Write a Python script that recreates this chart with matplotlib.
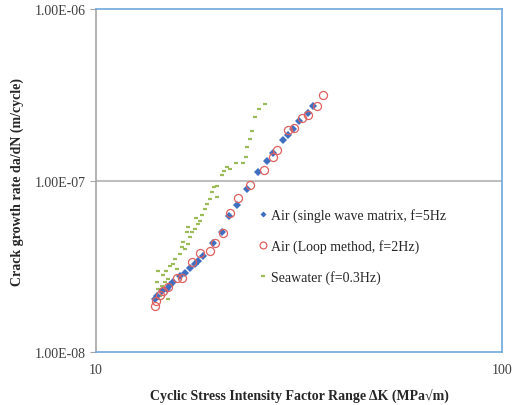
import matplotlib
matplotlib.use("Agg")
from matplotlib import pyplot as plt
from matplotlib.ticker import FixedLocator, FixedFormatter, NullLocator

# Air (single wave matrix, f=5Hz)
air_single_dk = [13.97, 14.13, 14.54, 14.96, 15.22, 15.48, 16.10, 16.57, 17.04,
                 17.53, 17.83, 18.35, 19.42, 20.43, 21.26, 22.25, 23.55, 25.06,
                 26.38, 27.29, 28.88, 29.71, 30.56, 31.62, 33.28, 34.24]
air_single_rate = [2.04, 2.12, 2.27, 2.33, 2.46, 2.56, 2.77, 2.89, 3.09,
                   3.26, 3.39, 3.63, 4.32, 5.01, 6.21, 7.20, 8.92, 11.21,
                   12.99, 14.47, 17.23, 18.42, 19.97, 22.23, 24.75, 27.19]

# Air (Loop method, f=2Hz)
air_loop_dk = [13.97, 14.05, 14.38, 14.62, 15.04, 15.83, 16.28, 17.24, 18.04,
               19.09, 19.64, 20.55, 21.38, 22.38, 23.95, 25.93, 27.29, 27.91,
               29.71, 30.74, 32.17, 33.28, 35.02, 36.23]
air_loop_rate = [1.85, 1.98, 2.15, 2.27, 2.39, 2.70, 2.70, 3.35, 3.78,
                 3.88, 4.32, 4.94, 6.46, 7.91, 9.41, 11.51, 13.71, 15.06,
                 19.70, 20.24, 23.14, 24.09, 27.19, 31.51]

# Seawater (f=0.3Hz)
sea_dk = [14.13, 14.38, 14.21, 14.54, 14.13, 14.79, 14.62, 15.04, 14.21, 14.87,
          15.04, 15.22, 15.48, 15.83, 15.65, 16.10, 16.28, 16.57, 16.38, 16.85,
          17.04, 16.75, 17.24, 16.85, 17.53, 17.83, 18.04, 17.63, 18.25, 18.56,
          18.77, 19.09, 19.31, 19.53, 19.86, 19.86, 20.43, 20.67, 21.02, 21.38,
          22.12, 23.02, 23.42, 23.55, 23.95, 24.22, 24.64, 25.21, 26.08]
sea_rate = [2.04, 2.12, 2.33, 2.43, 2.56, 2.56, 2.81, 2.67, 2.97, 2.97,
            2.04, 3.17, 3.26, 3.05, 3.49, 3.73, 4.10, 3.99, 4.38, 4.26,
            4.68, 5.01, 5.01, 5.36, 5.21, 5.58, 5.81, 6.05, 6.29, 6.82,
            7.30, 7.80, 8.57, 9.17, 9.29, 8.01, 10.77, 11.36, 11.99, 11.67,
            12.65, 12.65, 13.71, 15.68, 17.46, 19.44, 23.46, 26.12, 27.93]

scale = 1e-8
y_ticks = [1e-8, 1e-7, 1e-6]
y_tick_labels = ["1.00E-08", "1.00E-07", "1.00E-06"]
x_ticks = [10, 100]
x_tick_labels = ["10", "100"]

plt.rcParams['font.family'] = ['Liberation Serif', 'DejaVu Serif']

fig = plt.figure(figsize=(5.13, 4.06), dpi=100)
ax = fig.add_axes([0.187, 0.1305, 0.7916, 0.8449])

ax.set_xscale('log')
ax.set_yscale('log')
ax.set_xlim(10, 100)
ax.set_ylim(1e-8, 1e-6)

# gridline at 1e-7 only
ax.axhline(1e-7, color='#BFBFBF', linewidth=1.5, zorder=1)

ax.plot(air_single_dk, [v * scale for v in air_single_rate], linestyle='none',
        marker='D', markersize=3.6, color='#3F6FC0', markeredgewidth=0,
        label='Air (single wave matrix, f=5Hz', zorder=3)
ax.plot(air_loop_dk, [v * scale for v in air_loop_rate], linestyle='none',
        marker='o', markersize=5.8, markerfacecolor='none',
        markeredgecolor='#E06060', markeredgewidth=0.9,
        label='Air (Loop method, f=2Hz)', zorder=3)
ax.plot(sea_dk, [v * scale for v in sea_rate], linestyle='none',
        marker='_', markersize=3.2, color='#9BBB59', markeredgewidth=1.6,
        label='Seawater (f=0.3Hz)', zorder=2)

ax.xaxis.set_major_locator(FixedLocator(x_ticks))
ax.xaxis.set_major_formatter(FixedFormatter(x_tick_labels))
ax.xaxis.set_minor_locator(NullLocator())
ax.yaxis.set_major_locator(FixedLocator(y_ticks))
ax.yaxis.set_major_formatter(FixedFormatter(y_tick_labels))
ax.yaxis.set_minor_locator(NullLocator())

ax.tick_params(axis='y', length=4, color='#A6A6A6', labelsize=10,
               labelcolor='#404040', pad=3)
ax.tick_params(axis='x', length=0, labelsize=10, labelcolor='#404040', pad=8)

ax.spines['left'].set_color('#A6A6A6')
for side in ['top', 'right', 'bottom']:
    ax.spines[side].set_color('#6FA8DC')
for side in ax.spines:
    ax.spines[side].set_linewidth(1.2)

ax.set_xlabel('Cyclic Stress Intensity Factor Range ΔK (MPa√m)',
              fontsize=10, fontweight='bold', color='#262626', labelpad=9)
ax.set_ylabel('Crack growth rate da/dN (m/cycle)',
              fontsize=10, fontweight='bold', color='#262626', labelpad=8)

leg = ax.legend(loc='upper left', bbox_to_anchor=(0.37, 0.455), frameon=False,
                fontsize=10, labelspacing=1.2, handlelength=0.6,
                handletextpad=0.3, markerscale=0.85)
for t in leg.get_texts():
    t.set_color('#262626')

fig.savefig('out.png', dpi=100)
